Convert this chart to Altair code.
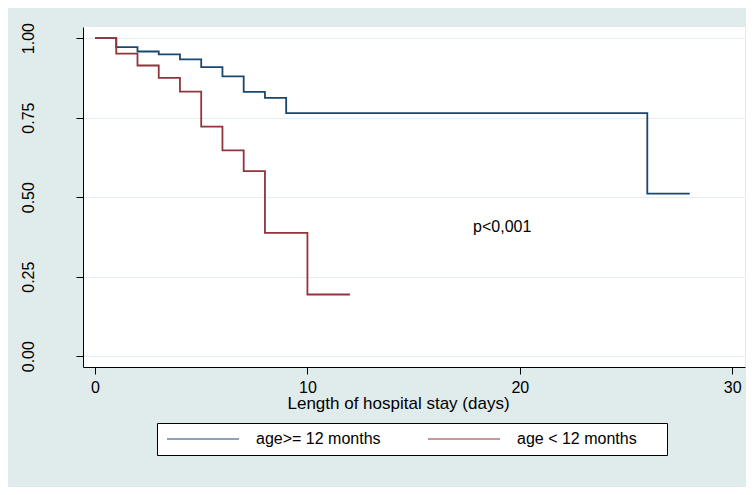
import altair as alt
import pandas as pd

# Kaplan-Meier estimates
blue_label = "age>= 12 months"
red_label = "age < 12 months"
blue_time = [0, 1, 2, 3, 4, 5, 6, 7, 8, 9, 26, 28]
blue_surv = [1.0, 0.972, 0.958, 0.949, 0.933, 0.909, 0.880, 0.831, 0.812, 0.764, 0.511, 0.511]
red_time = [0, 1, 2, 3, 4, 5, 6, 7, 8, 10, 12]
red_surv = [1.0, 0.951, 0.914, 0.875, 0.832, 0.722, 0.647, 0.582, 0.388, 0.194, 0.194]
x_ticks = [0, 10, 20, 30]
y_ticks = [0.0, 0.25, 0.5, 0.75, 1.0]
annotation = "p<0,001"
annotation_x = 17.8
annotation_y = 0.406

groups = [blue_label, red_label]
colors = ["#1a476f", "#90353b"]

rows = []
for t, s in zip(blue_time, blue_surv):
    rows.append({"time": t, "surv": s, "group": blue_label, "order": 0})
for t, s in zip(red_time, red_surv):
    rows.append({"time": t, "surv": s, "group": red_label, "order": 1})
df = pd.DataFrame(rows)

FONT = "Liberation Sans"
PAD_TAIL = "\u00a0" * 5 + "\u200b"

x_enc = alt.X(
    "time:Q",
    scale=alt.Scale(domain=[-0.565, 30.6], nice=False, zero=False),
    axis=alt.Axis(
        values=x_ticks, format="d", grid=False, title="Length of hospital stay (days)",
        tickSize=7, labelPadding=18, labelBaseline="alphabetic", labelFontSize=16,
        titleFontSize=17, titleFontWeight="normal", titleX=315, titleY=41,
        titleAlign="center", titleBaseline="alphabetic", titleAnchor="start",
    ),
)
y_enc = alt.Y(
    "surv:Q",
    scale=alt.Scale(domain=[-0.034, 1.035], nice=False, zero=False),
    axis=alt.Axis(
        values=y_ticks, format=".2f", title=None, grid=True,
        gridColor="#e6eff0", gridWidth=1.2,
        tickSize=7, labelAngle=270, labelAlign="center", labelBaseline="alphabetic",
        labelPadding=43, labelFontSize=16,
    ),
)

lines = alt.Chart(df).mark_line(interpolate="step-after", strokeWidth=1.8).encode(
    x=x_enc,
    y=y_enc,
    color=alt.Color(
        "group:N",
        scale=alt.Scale(domain=groups, range=colors),
        legend=alt.Legend(
            title=None, orient="none", legendX=74, legendY=396,
            direction="horizontal", columns=2,
            strokeColor="#000000", fillColor="#ffffff", padding=8,
            symbolType="M-6,0H6", symbolSize=144, symbolStrokeWidth=1.2,
            symbolOffset=30, labelOffset=45,
            columnPadding=44, labelFontSize=16, labelFont=FONT,
            labelColor="#000000",
            labelExpr="datum.label == '" + red_label + "' ? datum.label + '" + PAD_TAIL + "' : datum.label",
        ),
    ),
    order=alt.Order("order:Q"),
    detail="group:N",
)

text_df = pd.DataFrame({"time": [annotation_x], "surv": [annotation_y], "txt": [annotation]})
text = alt.Chart(text_df).mark_text(
    align="left", baseline="middle", fontSize=16, font=FONT, color="#000000"
).encode(x="time:Q", y="surv:Q", text="txt:N")

chart = (
    alt.layer(lines, text)
    .properties(
        width=662, height=340,
        padding={"left": 75, "top": 19, "right": 1, "bottom": 120},
        autosize=alt.AutoSizeParams(type="none"),
    )
    .configure(background="#e0ecec", font=FONT)
    .configure_view(fill="#ffffff", stroke=None)
    .configure_axis(
        domainColor="#000000", tickColor="#000000", labelColor="#000000",
        titleColor="#000000", labelFont=FONT, titleFont=FONT, domainWidth=1, tickWidth=1,
    )
)

chart.save("out.html", embed_options={"renderer": "svg", "actions": False})
